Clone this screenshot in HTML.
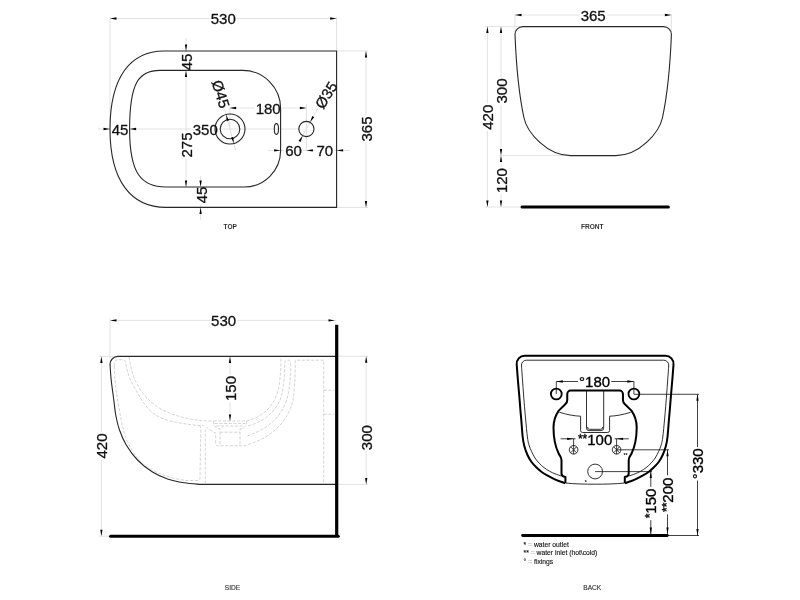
<!DOCTYPE html>
<html><head><meta charset="utf-8"><title>Technical drawing</title>
<style>
html,body{margin:0;padding:0;background:#fff;}
body{width:800px;height:600px;overflow:hidden;}
svg{display:block;will-change:transform;}
text{font-family:"Liberation Sans",Arial,sans-serif;}
.d{fill:#111;stroke:#111;stroke-width:.3px;}
.dw{fill:#000;stroke:#000;stroke-width:.35px;}
.lb{fill:#333;font-weight:bold;}
.lb2{fill:#2a2a2a;stroke:#2a2a2a;stroke-width:.1px;}
.lg{fill:#111;font-size:6.75px;stroke:#111;stroke-width:.12px;}
.o{fill:none;stroke:#262626;stroke-width:1.1;}
path.o{stroke-linejoin:round;}
.h{fill:none;stroke:#cdcdcd;stroke-width:.85;stroke-dasharray:3.2 1.5;}
.k{fill:none;stroke:#000;stroke-width:2;stroke-linejoin:round;}
.k2{fill:none;stroke:#000;stroke-width:1.8;}
.t{fill:none;stroke:#1a1a1a;stroke-width:.9;}
</style></head><body>
<svg width="800" height="600" viewBox="0 0 800 600">
<rect width="800" height="600" fill="#fff"/>
<line x1="110" y1="17" x2="110" y2="129.2" stroke="#e2e2e2" stroke-width="1" />
<line x1="336.6" y1="17" x2="336.6" y2="51" stroke="#e2e2e2" stroke-width="1" />
<line x1="110" y1="18.5" x2="336.6" y2="18.5" stroke="#e2e2e2" stroke-width="1" />
<line x1="336.6" y1="51" x2="368" y2="51" stroke="#e2e2e2" stroke-width="1" />
<line x1="336.6" y1="207.4" x2="368" y2="207.4" stroke="#e2e2e2" stroke-width="1" />
<line x1="366" y1="51" x2="366" y2="207.4" stroke="#e2e2e2" stroke-width="1" />
<line x1="98" y1="129" x2="300" y2="129" stroke="#e2e2e2" stroke-width="1" />
<line x1="186" y1="38" x2="186" y2="187" stroke="#e2e2e2" stroke-width="1" />
<line x1="200.6" y1="176" x2="200.6" y2="220" stroke="#e2e2e2" stroke-width="1" />
<line x1="229.6" y1="108" x2="306.4" y2="108" stroke="#e2e2e2" stroke-width="1" />
<line x1="229.8" y1="104" x2="229.8" y2="129" stroke="#e2e2e2" stroke-width="1" />
<line x1="306.4" y1="104" x2="306.4" y2="151" stroke="#e2e2e2" stroke-width="1" />
<line x1="268" y1="150.4" x2="350" y2="150.4" stroke="#e2e2e2" stroke-width="1" />
<line x1="224.30598100774455" y1="107.74963182164049" x2="235.69401899225545" y2="150.2503681783595" stroke="#e2e2e2" stroke-width="1" />
<line x1="298.64304607605857" y1="142.99391531423032" x2="318.0354308859121" y2="108.0091270286545" stroke="#e2e2e2" stroke-width="1" />
<line x1="515" y1="14" x2="515" y2="34" stroke="#e2e2e2" stroke-width="1" />
<line x1="671.4" y1="14" x2="671.4" y2="34" stroke="#e2e2e2" stroke-width="1" />
<line x1="515" y1="15" x2="671.4" y2="15" stroke="#e2e2e2" stroke-width="1" />
<line x1="485" y1="26.6" x2="523" y2="26.6" stroke="#e2e2e2" stroke-width="1" />
<line x1="485" y1="207" x2="520" y2="207" stroke="#e2e2e2" stroke-width="1" />
<line x1="487.4" y1="26.6" x2="487.4" y2="207" stroke="#e2e2e2" stroke-width="1" />
<line x1="501" y1="26.6" x2="501" y2="207" stroke="#e2e2e2" stroke-width="1" />
<line x1="499" y1="155.6" x2="570" y2="155.6" stroke="#e2e2e2" stroke-width="1" />
<line x1="110" y1="319" x2="110" y2="358" stroke="#e2e2e2" stroke-width="1" />
<line x1="110" y1="320.4" x2="336.7" y2="320.4" stroke="#e2e2e2" stroke-width="1" />
<line x1="99" y1="356.4" x2="118" y2="356.4" stroke="#e2e2e2" stroke-width="1" />
<line x1="99" y1="536.2" x2="110" y2="536.2" stroke="#e2e2e2" stroke-width="1" />
<line x1="101.4" y1="356.4" x2="101.4" y2="536.2" stroke="#e2e2e2" stroke-width="1" />
<line x1="230" y1="356.4" x2="230" y2="421" stroke="#e2e2e2" stroke-width="1" />
<line x1="338" y1="356.2" x2="368" y2="356.2" stroke="#e2e2e2" stroke-width="1" />
<line x1="338" y1="484.4" x2="368" y2="484.4" stroke="#e2e2e2" stroke-width="1" />
<line x1="366.2" y1="356.2" x2="366.2" y2="484.4" stroke="#e2e2e2" stroke-width="1" />
<line x1="556.3" y1="381.5" x2="633.9" y2="381.5" stroke="#111" stroke-width="0.8" />
<line x1="556.3" y1="381.5" x2="556.3" y2="394" stroke="#111" stroke-width="0.8" />
<line x1="633.9" y1="381.5" x2="633.9" y2="394" stroke="#111" stroke-width="0.8" />
<line x1="560.6" y1="438.8" x2="628.8" y2="438.8" stroke="#111" stroke-width="0.8" />
<line x1="573.6" y1="438.8" x2="573.6" y2="454.1" stroke="#111" stroke-width="0.8" />
<line x1="616.6" y1="438.8" x2="616.6" y2="454.1" stroke="#111" stroke-width="0.8" />
<line x1="633.9" y1="394.3" x2="699" y2="394.3" stroke="#111" stroke-width="0.8" />
<line x1="697.5" y1="394.3" x2="697.5" y2="535.5" stroke="#111" stroke-width="0.8" />
<line x1="616.6" y1="449.8" x2="669" y2="449.8" stroke="#111" stroke-width="0.8" />
<line x1="667.5" y1="449.8" x2="667.5" y2="535.5" stroke="#111" stroke-width="0.8" />
<line x1="595.1" y1="471.6" x2="652" y2="471.6" stroke="#111" stroke-width="0.8" />
<line x1="650.8" y1="471.6" x2="650.8" y2="535.5" stroke="#111" stroke-width="0.8" />
<line x1="667.5" y1="535.5" x2="699" y2="535.5" stroke="#111" stroke-width="0.8" />
<rect x="209.59" y="12.50" width="27.42" height="12.00" fill="#fff"/>
<rect x="352.29" y="122.70" width="27.42" height="12.00" fill="#fff" transform="rotate(-90 366 129)"/>
<rect x="110.46" y="123.00" width="19.08" height="12.00" fill="#fff"/>
<rect x="191.59" y="123.00" width="27.42" height="12.00" fill="#fff"/>
<rect x="176.46" y="55.70" width="19.08" height="12.00" fill="#fff" transform="rotate(-90 186 62)"/>
<rect x="172.59" y="138.70" width="27.42" height="12.00" fill="#fff" transform="rotate(-90 186.3 145)"/>
<rect x="191.46" y="188.70" width="19.08" height="12.00" fill="#fff" transform="rotate(-90 201 195)"/>
<rect x="254.49" y="102.50" width="27.42" height="12.00" fill="#fff"/>
<rect x="283.96" y="144.60" width="19.08" height="12.00" fill="#fff"/>
<rect x="315.26" y="144.60" width="19.08" height="12.00" fill="#fff"/>
<rect x="205.62" y="87.70" width="30.75" height="12.00" fill="#fff" transform="rotate(73 221 94)"/>
<rect x="310.62" y="88.70" width="30.75" height="12.00" fill="#fff" transform="rotate(-58 326 95)"/>
<rect x="579.49" y="9.30" width="27.42" height="12.00" fill="#fff"/>
<rect x="473.69" y="110.90" width="27.42" height="12.00" fill="#fff" transform="rotate(-90 487.4 117.2)"/>
<rect x="487.29" y="84.70" width="27.42" height="12.00" fill="#fff" transform="rotate(-90 501 91)"/>
<rect x="487.29" y="174.30" width="27.42" height="12.00" fill="#fff" transform="rotate(-90 501 180.6)"/>
<rect x="209.89" y="314.50" width="27.42" height="12.00" fill="#fff"/>
<rect x="87.69" y="439.70" width="27.42" height="12.00" fill="#fff" transform="rotate(-90 101.4 446)"/>
<rect x="216.59" y="382.20" width="27.42" height="12.00" fill="#fff" transform="rotate(-90 230.3 388.5)"/>
<rect x="352.79" y="431.40" width="27.42" height="12.00" fill="#fff" transform="rotate(-90 366.5 437.7)"/>
<rect x="577.89" y="375.20" width="33.42" height="12.00" fill="#fff"/>
<rect x="575.56" y="433.00" width="39.09" height="12.00" fill="#fff"/>
<rect x="680.99" y="457.50" width="33.42" height="12.00" fill="#fff" transform="rotate(-90 697.7 463.8)"/>
<rect x="648.06" y="488.50" width="39.09" height="12.00" fill="#fff" transform="rotate(-90 667.6 494.8)"/>
<rect x="634.27" y="497.20" width="33.26" height="12.00" fill="#fff" transform="rotate(-90 650.9 503.5)"/>
<path class="o" d="M336.6,51 L164,51 C130.5,51 110,77 110,129.2 C110,181.4 131.5,207.4 166,207.4 L336.6,207.4 Z"/>
<path class="o" d="M160,70.4 L242.6,70.4 A38,38 0 0 1 280.6,108.4 L280.6,150.5 A36.5,36.5 0 0 1 244.1,187 L166,187 C141,187 129.6,173 129.6,129.2 C129.6,81.8 139.2,70.4 160,70.4 Z"/>
<circle class="o" cx="230" cy="129" r="15"/><circle class="o" cx="230" cy="129" r="9.8"/>
<circle class="o" cx="306.4" cy="129" r="7.6"/>
<ellipse class="o" cx="276.4" cy="129" rx="2.1" ry="5.4"/>
<polygon points="110.00,18.50 116.50,17.35 116.50,19.65" fill="#000"/>
<polygon points="336.60,18.50 330.10,19.65 330.10,17.35" fill="#000"/>
<polygon points="366.00,51.00 367.15,57.50 364.85,57.50" fill="#000"/>
<polygon points="366.00,207.40 364.85,200.90 367.15,200.90" fill="#000"/>
<polygon points="110.00,129.00 103.50,130.15 103.50,127.85" fill="#000"/>
<polygon points="129.60,129.00 136.10,127.85 136.10,130.15" fill="#000"/>
<polygon points="186.00,51.00 184.85,44.50 187.15,44.50" fill="#000"/>
<polygon points="186.00,70.40 187.15,76.90 184.85,76.90" fill="#000"/>
<polygon points="186.00,187.00 184.85,180.50 187.15,180.50" fill="#000"/>
<polygon points="200.60,187.00 199.45,180.50 201.75,180.50" fill="#000"/>
<polygon points="200.60,207.40 201.75,213.90 199.45,213.90" fill="#000"/>
<polygon points="229.60,108.00 236.10,106.85 236.10,109.15" fill="#000"/>
<polygon points="306.40,108.00 299.90,109.15 299.90,106.85" fill="#000"/>
<polygon points="280.60,150.40 274.10,151.55 274.10,149.25" fill="#000"/>
<polygon points="306.40,150.40 312.90,149.25 312.90,151.55" fill="#000"/>
<polygon points="306.40,150.40 306.40,151.55 306.40,149.25" fill="#000"/>
<polygon points="336.60,150.40 343.10,149.25 343.10,151.55" fill="#000"/>
<polygon points="226.12,114.51 228.91,120.49 226.69,121.09" fill="#000"/>
<polygon points="233.88,143.49 231.09,137.51 233.31,136.91" fill="#000"/>
<polygon points="310.08,122.35 312.23,116.11 314.24,117.23" fill="#000"/>
<polygon points="302.72,135.65 300.57,141.89 298.56,140.77" fill="#000"/>
<path class="o" d="M523,26.6 L663.4,26.6 A8,8 0 0 1 671.4,34.6 C670.4,60 667.4,95 662.4,118 C659.2,132.8 639.0,155.6 615.9,155.6 L570.5,155.6 C547.4,155.6 527.2,132.8 524,118 C519,95 516,60 515,34.6 A8,8 0 0 1 523,26.6 Z"/>
<line x1="522" y1="207" x2="668.4" y2="207" stroke="#000" stroke-width="3" stroke-linecap="round"/>
<polygon points="515.00,15.00 521.50,13.85 521.50,16.15" fill="#000"/>
<polygon points="671.40,15.00 664.90,16.15 664.90,13.85" fill="#000"/>
<polygon points="487.40,26.60 488.55,33.10 486.25,33.10" fill="#000"/>
<polygon points="487.40,207.00 486.25,200.50 488.55,200.50" fill="#000"/>
<polygon points="501.00,26.60 502.15,33.10 499.85,33.10" fill="#000"/>
<polygon points="501.00,155.60 499.85,149.10 502.15,149.10" fill="#000"/>
<polygon points="501.00,155.60 502.15,162.10 499.85,162.10" fill="#000"/>
<polygon points="501.00,207.00 499.85,200.50 502.15,200.50" fill="#000"/>
<path class="o" d="M336.7,356.4 L118,356.4 A8,8 0 0 0 110,364.4 L110,364.4 C110.20,367.00 110.57,374.07 111.2,380 C111.83,385.93 113.04,394.17 113.8,400 C114.56,405.83 114.80,410.00 115.75,415 C116.70,420.00 117.75,425.00 119.5,430 C121.25,435.00 123.25,440.00 126.25,445 C129.25,450.00 133.12,455.50 137.5,460 C141.88,464.50 147.50,468.85 152.5,472 C157.50,475.15 162.25,477.10 167.5,478.9 C172.75,480.70 178.50,481.88 184,482.8 C189.50,483.72 197.75,484.13 200.5,484.4  L336.7,484.4" fill="none"/>
<line x1="336.7" y1="324.8" x2="336.7" y2="536.2" stroke="#000" stroke-width="3.2" />
<line x1="110.6" y1="536.2" x2="338.3" y2="536.2" stroke="#000" stroke-width="3" stroke-linecap="round"/>
<path class="h" d="M114.2,366 L114.2,363 A3.5,3.5 0 0 1 117.7,359.7 L122,359.7 A3.5,3.5 0 0 1 125.7,363 C127,372 130,380 134.5,387.5 C139,396 143,403 149.5,410 C157,417 166,420.5 175,422 C185,424 195,425.5 203.5,425.7"/>
<path class="h" d="M129,357 C131,370 134,380 139,387.5 C145,397 151,403 160,408.5 C170,414 180,417 190,419 C198,420.5 205,421 213.5,421"/>
<path class="h" d="M114.2,366 C115,385 117,398 119.5,410 C121,420 122.5,427 124.7,434 C128,445 134,455 142,463 C152,472 168,478 186,480.5 L198,480.5 A2,2 0 0 0 200,478.5 L200.8,428 A2.5,2.5 0 0 0 199,425.5"/>
<path class="h" d="M205.3,484 L205.3,430 L207,427.5"/>
<path class="h" d="M213.5,421 L246.5,421 M214.5,423.5 L245.5,423.5 M216,426 L244,426 M220,432.2 L240,432.2"/>
<path class="h" d="M213.5,421 C213.5,427 216,428 220,429 L220,444 A1.7,1.7 0 0 1 218.3,445.7 L217.4,445.7 A1.7,1.7 0 0 1 215.7,444 L215.7,433 C213,432 210,430 207,427.5"/>
<path class="h" d="M246.5,421 C246.5,427 244,428 240,429 L240,444 A1.7,1.7 0 0 0 241.7,445.7 L220,445.7"/>
<path class="h" d="M246.5,421 C262,417 272,408 277,394 C280,384 281,372 281,357"/>
<path class="h" d="M248,426 C266,421 277,410 281.5,396 C284,386 284.7,374 284.7,363 A3,3 0 0 1 290.7,363 C290.7,376 290,388 287,399 C281,418 266,430 247,436"/>
<path class="h" d="M243.5,445.7 C268,440 287,424 292.5,402 C295,390 295.2,376 295.2,360.2 L323.7,360.2 L323.7,484"/>
<path class="h" d="M323.7,390.2 L334.5,390.2 M323.7,414.2 L334.5,414.2"/>
<polygon points="110.00,320.40 116.50,319.25 116.50,321.55" fill="#000"/>
<polygon points="335.00,320.40 328.50,321.55 328.50,319.25" fill="#000"/>
<polygon points="101.40,356.40 102.55,362.90 100.25,362.90" fill="#000"/>
<polygon points="101.40,536.20 100.25,529.70 102.55,529.70" fill="#000"/>
<polygon points="230.00,356.40 231.15,362.90 228.85,362.90" fill="#000"/>
<polygon points="230.00,421.00 228.85,414.50 231.15,414.50" fill="#000"/>
<polygon points="366.20,356.20 367.35,362.70 365.05,362.70" fill="#000"/>
<polygon points="366.20,484.40 365.05,477.90 367.35,477.90" fill="#000"/>
<path class="k" d="M565.4,483 L565.4,477 C563,476.6 561.5,475 561.5,473.75 L561.5,460 C561.5,457 559.5,455.5 558.75,453.75 C555,446 553.5,437 553.5,427.5 C553.5,421 555,416 558.75,410.6 L565.5,404 C566.8,402.8 567.25,402 567.25,400 L567.25,394 A3.4,3.4 0 0 1 570.6,390.6 L619.6,390.6 A3.4,3.4 0 0 1 622.95,394 L622.95,400 C622.95,402 623.4,402.8 624.7,404 L631.45,410.6 C635.2,416 636.7,421 636.7,427.5 C636.7,437 635.2,446 631.45,453.75 C630.7,455.5 628.7,457 628.7,460 L628.7,473.75 C628.7,475 627.2,476.6 624.8,477 L624.8,483"/>
<path class="k" d="M565.2,483.2 C563.67,482.63 558.78,481.00 556,479.8 C553.22,478.60 550.83,477.27 548.5,476 C546.17,474.73 543.95,473.57 542,472.2 C540.05,470.83 538.55,469.50 536.8,467.8 C535.05,466.10 533.05,464.13 531.5,462 C529.95,459.87 528.70,457.67 527.5,455 C526.30,452.33 525.10,449.00 524.3,446 C523.50,443.00 523.20,441.33 522.7,437 C522.20,432.67 521.68,424.50 521.3,420 C520.92,415.50 520.75,414.17 520.4,410 C520.05,405.83 519.62,400.00 519.2,395 C518.78,390.00 518.32,385.08 517.9,380 C517.48,374.92 516.90,367.08 516.7,364.5  A8,8 0 0 1 524.7,355.7 L665.5,355.7 A8,8 0 0 1 673.5,364.5 L673.5,364.5 C673.30,367.08 672.72,374.92 672.3,380 C671.88,385.08 671.42,390.00 671.0,395 C670.58,400.00 670.15,405.83 669.8,410 C669.45,414.17 669.28,415.50 668.9,420 C668.52,424.50 668.00,432.67 667.5,437 C667.00,441.33 666.70,443.00 665.9,446 C665.10,449.00 663.90,452.33 662.7,455 C661.50,457.67 660.25,459.87 658.7,462 C657.15,464.13 655.15,466.10 653.4,467.8 C651.65,469.50 650.15,470.83 648.2,472.2 C646.25,473.57 644.03,474.73 641.7,476 C639.37,477.27 636.98,478.60 634.2,479.8 C631.42,481.00 626.53,482.63 625.0,483.2 "/>
<path class="t" d="M561.3,476 C560.25,475.63 556.93,474.58 555,473.8 C553.07,473.02 551.53,472.33 549.7,471.3 C547.87,470.27 545.75,468.95 544,467.6 C542.25,466.25 540.70,464.80 539.2,463.2 C537.70,461.60 536.27,459.95 535,458 C533.73,456.05 532.60,453.67 531.6,451.5 C530.60,449.33 529.70,447.42 529,445 C528.30,442.58 527.95,441.17 527.4,437 C526.85,432.83 526.13,424.50 525.7,420 C525.27,415.50 525.15,414.17 524.8,410 C524.45,405.83 523.98,400.00 523.6,395 C523.22,390.00 522.85,384.83 522.5,380 C522.15,375.17 521.67,368.33 521.5,366  A5,5 0 0 1 526.5,360.2 L663.7,360.2 A5,5 0 0 1 668.7,366 L668.7,366 C668.53,368.33 668.05,375.17 667.7,380 C667.35,384.83 666.98,390.00 666.6,395 C666.22,400.00 665.75,405.83 665.4,410 C665.05,414.17 664.93,415.50 664.5,420 C664.07,424.50 663.35,432.83 662.8,437 C662.25,441.17 661.90,442.58 661.2,445 C660.50,447.42 659.60,449.33 658.6,451.5 C657.60,453.67 656.47,456.05 655.2,458 C653.93,459.95 652.50,461.60 651.0,463.2 C649.50,464.80 647.95,466.25 646.2,467.6 C644.45,468.95 642.33,470.27 640.5,471.3 C638.67,472.33 637.13,473.02 635.2,473.8 C633.27,474.58 629.95,475.63 628.9,476 "/>
<path class="t" d="M565.4,483 C575,484 585,484.2 595.1,484.2 C605,484.2 615,484 624.8,483"/>
<circle class="k2" cx="556.3" cy="394" r="5.4"/><circle class="k2" cx="633.9" cy="394" r="5.4"/>
<circle class="t" cx="595.1" cy="471.5" r="7.4"/>
<circle class="t" cx="573.6" cy="449.8" r="4.3"/>
<path class="t" d="M570.6,446.8 L576.6,452.8 M576.6,446.8 L570.6,452.8"/>
<circle class="t" cx="616.6" cy="449.8" r="4.3"/>
<path class="t" d="M613.6,446.8 L619.6,452.8 M619.6,446.8 L613.6,452.8"/>
<path class="t" d="M559.5,412.3 C568,415 575,416 580.6,416.2 M630.7,412.3 C622.2,415 615.2,416 609.6,416.2"/>
<path class="t" d="M580.6,416.2 L580.6,430.5 A2,2 0 0 0 582.6,432.5 L607.6,432.5 A2,2 0 0 0 609.6,430.5 L609.6,416.2"/>
<path class="t" d="M586.5,390.6 L586.5,428 A2.6,2.6 0 0 0 589.1,430.6 L601.1,430.6 A2.6,2.6 0 0 0 603.7,428 L603.7,390.6"/>
<path class="t" d="M587.6,427 A2,2 0 0 0 589.6,429.3 L600.6,429.3 A2,2 0 0 0 602.6,427"/>
<line x1="522.6" y1="535.5" x2="667.3" y2="535.5" stroke="#000" stroke-width="2.8" stroke-linecap="round"/>
<polygon points="556.30,381.50 562.80,380.35 562.80,382.65" fill="#000"/>
<polygon points="633.90,381.50 627.40,382.65 627.40,380.35" fill="#000"/>
<polygon points="573.60,438.80 567.10,439.95 567.10,437.65" fill="#000"/>
<polygon points="616.60,438.80 623.10,437.65 623.10,439.95" fill="#000"/>
<polygon points="697.50,394.30 698.65,400.80 696.35,400.80" fill="#000"/>
<polygon points="697.50,535.50 696.35,529.00 698.65,529.00" fill="#000"/>
<polygon points="667.50,449.80 668.65,456.30 666.35,456.30" fill="#000"/>
<polygon points="667.50,534.00 666.35,527.50 668.65,527.50" fill="#000"/>
<polygon points="650.80,471.60 651.95,478.10 649.65,478.10" fill="#000"/>
<polygon points="650.80,534.00 649.65,527.50 651.95,527.50" fill="#000"/>
<text x="523.6" y="546.6" class="lg">* <tspan fill="#bbb">=</tspan> water outlet</text>
<text x="523.6" y="555.2" class="lg">** <tspan fill="#bbb">=</tspan> water inlet (hot\cold)</text>
<text x="523.6" y="563.8" class="lg">° <tspan fill="#bbb">=</tspan> fixings</text>
<text x="223.3" y="24.32" class="d" font-size="15" text-anchor="middle">530</text>
<text x="366" y="134.52" class="d" font-size="15" text-anchor="middle" transform="rotate(-90 366 129)">365</text>
<text x="120" y="134.82" class="d" font-size="15" text-anchor="middle">45</text>
<text x="205.3" y="134.82" class="d" font-size="15" text-anchor="middle">350</text>
<text x="186" y="67.52" class="d" font-size="15" text-anchor="middle" transform="rotate(-90 186 62)">45</text>
<text x="186.3" y="150.52" class="d" font-size="15" text-anchor="middle" transform="rotate(-90 186.3 145)">275</text>
<text x="201" y="200.52" class="d" font-size="15" text-anchor="middle" transform="rotate(-90 201 195)">45</text>
<text x="268.2" y="114.32" class="d" font-size="15" text-anchor="middle">180</text>
<text x="293.5" y="156.42" class="d" font-size="15" text-anchor="middle">60</text>
<text x="324.8" y="156.42" class="d" font-size="15" text-anchor="middle">70</text>
<text x="221" y="99.52" class="d" font-size="15" text-anchor="middle" transform="rotate(73 221 94)">Ø45</text>
<text x="326" y="100.52" class="d" font-size="15" text-anchor="middle" transform="rotate(-58 326 95)">Ø35</text>
<text x="230.25" y="229.13" class="lb" font-size="6.6" text-anchor="middle">TOP</text>
<text x="593.2" y="21.12" class="d" font-size="15" text-anchor="middle">365</text>
<text x="487.4" y="122.72" class="d" font-size="15" text-anchor="middle" transform="rotate(-90 487.4 117.2)">420</text>
<text x="501" y="96.52" class="d" font-size="15" text-anchor="middle" transform="rotate(-90 501 91)">300</text>
<text x="501" y="186.12" class="d" font-size="15" text-anchor="middle" transform="rotate(-90 501 180.6)">120</text>
<text x="592.3" y="229.13" class="lb" font-size="6.6" text-anchor="middle">FRONT</text>
<text x="223.6" y="326.32" class="d" font-size="15" text-anchor="middle">530</text>
<text x="101.4" y="451.52" class="d" font-size="15" text-anchor="middle" transform="rotate(-90 101.4 446)">420</text>
<text x="230.3" y="394.02" class="d" font-size="15" text-anchor="middle" transform="rotate(-90 230.3 388.5)">150</text>
<text x="366.5" y="443.22" class="d" font-size="15" text-anchor="middle" transform="rotate(-90 366.5 437.7)">300</text>
<text x="232.5" y="589.93" class="lb2" font-size="6.6" text-anchor="middle">SIDE</text>
<text x="594.6" y="387.02" class="dw" font-size="15" text-anchor="middle">°180</text>
<text x="623.5" y="457" font-size="5" font-weight="bold" fill="#000">**</text>
<text x="584.8" y="484" font-size="5" font-weight="bold" fill="#000">*</text>
<text x="577.92" y="444.82" class="dw" font-size="15" text-anchor="start"><tspan font-size="12.0" dy="-2.2">**</tspan><tspan dy="2.2">100</tspan></text>
<text x="697.7" y="469.32" class="dw" font-size="15" text-anchor="middle" transform="rotate(-90 697.7 463.8)">°330</text>
<text x="650.42" y="500.32" class="dw" font-size="15" text-anchor="start" transform="rotate(-90 667.6 494.8)"><tspan font-size="12.0" dy="-2.2">**</tspan><tspan dy="2.2">200</tspan></text>
<text x="636.06" y="509.02" class="dw" font-size="15" text-anchor="start" transform="rotate(-90 650.9 503.5)"><tspan font-size="12.0" dy="-2.2">*</tspan><tspan dy="2.2">150</tspan></text>
<text x="592.3" y="589.93" class="lb2" font-size="6.6" text-anchor="middle">BACK</text>
</svg>
</body></html>
